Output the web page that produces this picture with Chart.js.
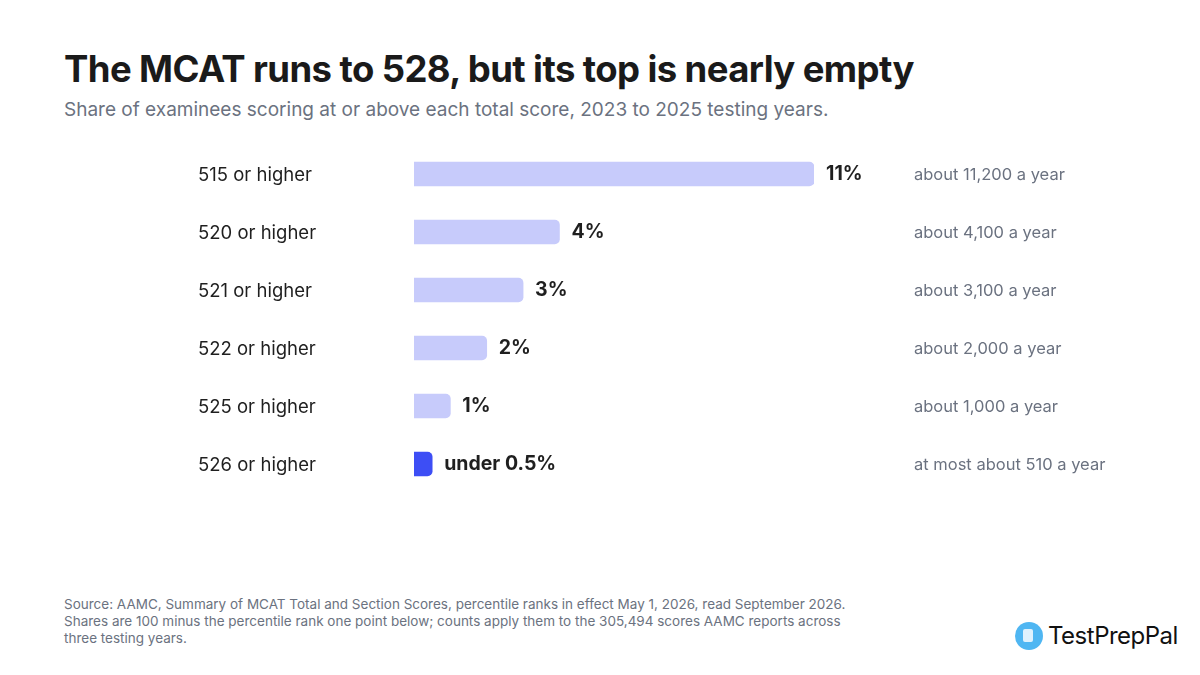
<!DOCTYPE html>
<html>
<head>
<meta charset="utf-8">
<script src="https://cdn.jsdelivr.net/npm/chart.js@4/dist/chart.umd.min.js"></script>
<style>
  body { margin: 0; width: 1200px; height: 675px; background: #fff; font-family: Inter, "Noto Sans", sans-serif; position: relative; overflow: hidden; }
  h1 { position: absolute; left: 64px; top: 47px; margin: 0; font-size: 36.5px; font-weight: 700; color: #1a1a1a; letter-spacing: -0.6px; }
  .sub { position: absolute; left: 64px; top: 98px; font-size: 19px; color: #6b7280; }
  #wrap { position: absolute; left: 0; top: 145px; width: 1200px; height: 348px; }
  .note { position: absolute; left: 64px; top: 596px; font-size: 13.5px; line-height: 17px; color: #6b7280; width: 808px; }
  .logo { position: absolute; left: 1015px; top: 621px; display: flex; align-items: center; font-size: 24px; color: #111; letter-spacing: -0.5px; }
  .logo span.ic { width: 28px; height: 28px; border-radius: 50%; background: #4fb6f2; margin-right: 5px; display: inline-block; position: relative; }
  .logo span.ic::after { content: ""; position: absolute; left: 8px; top: 7px; width: 10px; height: 13px; background: #dff1fd; border-radius: 2px; }
</style>
</head>
<body>
<h1>The MCAT runs to 528, but its top is nearly empty</h1>
<div class="sub">Share of examinees scoring at or above each total score, 2023 to 2025 testing years.</div>
<div id="wrap"><canvas id="c"></canvas></div>
<div class="note">Source: AAMC, Summary of MCAT Total and Section Scores, percentile ranks in effect May 1, 2026, read September 2026. Shares are 100 minus the percentile rank one point below; counts apply them to the 305,494 scores AAMC reports across three testing years.</div>
<div class="logo"><span class="ic"></span>TestPrepPal</div>
<script>
const categories = ['515 or higher', '520 or higher', '521 or higher', '522 or higher', '525 or higher', '526 or higher'];
const shares = [11, 4, 3, 2, 1, 0.5];
const shareLabels = ['11%', '4%', '3%', '2%', '1%', 'under 0.5%'];
const countLabels = ['about 11,200 a year', 'about 4,100 a year', 'about 3,100 a year', 'about 2,000 a year', 'about 1,000 a year', 'at most about 510 a year'];
const barColors = ['#c7cbfb', '#c7cbfb', '#c7cbfb', '#c7cbfb', '#c7cbfb', '#3d4ef5'];

const sideLabels = {
  id: 'sideLabels',
  afterDatasetsDraw(chart) {
    const ctx = chart.ctx;
    const meta = chart.getDatasetMeta(0);
    ctx.save();
    ctx.textBaseline = 'middle';
    meta.data.forEach((bar, i) => {
      const y = bar.y;
      ctx.fillStyle = '#1f1f1f';
      ctx.font = '18.5px Inter';
      ctx.textAlign = 'left';
      ctx.fillText(categories[i], 198, y + 1);
      ctx.font = 'bold 19.5px Inter';
      ctx.fillText(shareLabels[i], bar.x + 12, y);
      ctx.fillStyle = '#6b7280';
      ctx.font = '16.5px Inter';
      ctx.fillText(countLabels[i], 914, y + 1);
    });
    ctx.restore();
  }
};

new Chart(document.getElementById('c'), {
  type: 'bar',
  data: {
    labels: categories,
    datasets: [{
      data: shares,
      backgroundColor: barColors,
      barThickness: 24,
      borderRadius: { topRight: 5, bottomRight: 5, topLeft: 0, bottomLeft: 0 },
      borderSkipped: false
    }]
  },
  options: {
    indexAxis: 'y',
    responsive: true,
    maintainAspectRatio: false,
    animation: false,
    layout: { padding: { left: 414, right: 386, top: 0, bottom: 0 } },
    plugins: { legend: { display: false }, tooltip: { enabled: false } },
    scales: {
      x: { min: 0, max: 11, display: false },
      y: { display: false }
    }
  },
  plugins: [sideLabels]
});
</script>
</body>
</html>
